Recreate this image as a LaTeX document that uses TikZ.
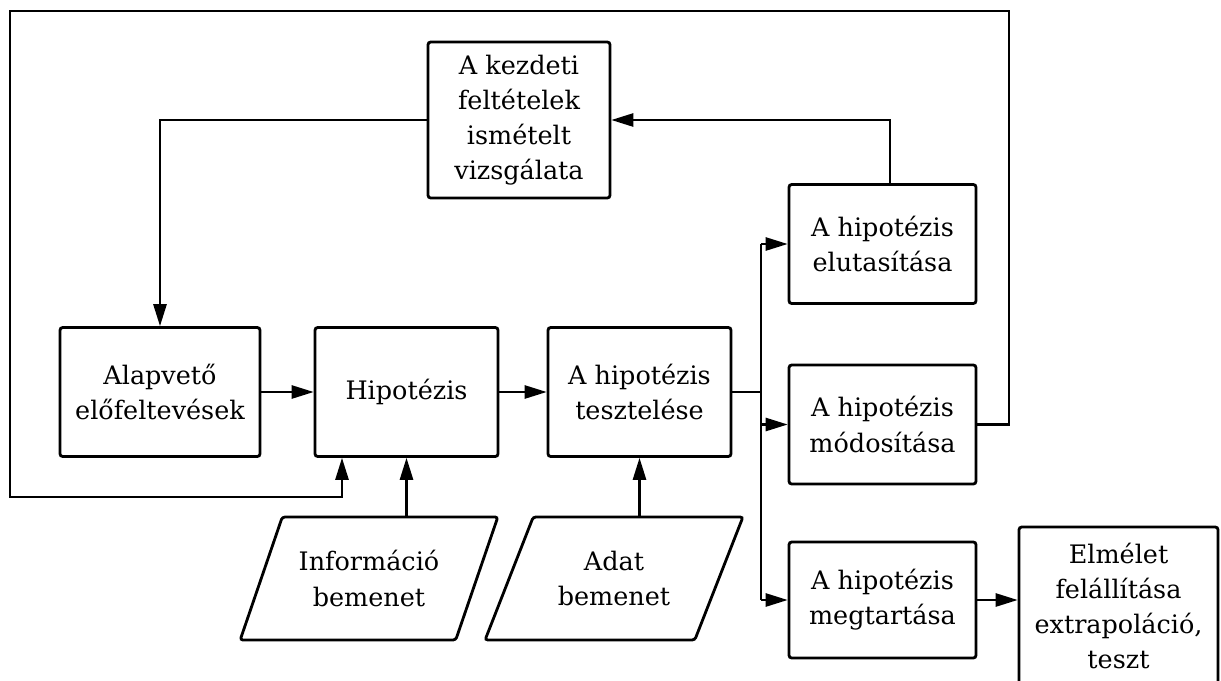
\documentclass[tikz,border=0pt]{standalone}
\usepackage{fontspec}
\setmainfont{DejaVu Serif}
\usetikzlibrary{arrows.meta,calc,shapes.geometric}

\begin{document}
\begin{tikzpicture}[x=0.02cm,y=-0.02cm,
    font=\fontsize{14.5}{20}\selectfont,
    box/.style={draw,line width=1.6pt,rounded corners=1.5pt,align=center,inner sep=0pt},
    inbox/.style={trapezium,trapezium left angle=58.6,trapezium right angle=121.4,
        trapezium stretches=true,draw,line width=1.6pt,rounded corners=1.5pt,
        align=center,inner sep=0pt},
    arr/.style={line width=1.2pt,-{Triangle[length=12.5pt,width=7.5pt]}},
    ln/.style={line width=1.2pt}]
    \useasboundingbox (0,0) rectangle (1221,680);
    \clip (0,0) rectangle (1221,680);
    % boxes
    \node[box,minimum width=3.64cm,minimum height=3.12cm] (kezd) at (519,120)
        {A kezdeti\\feltételek\\ismételt\\vizsgálata};
    \node[box,minimum width=4.0cm,minimum height=2.58cm] (alap) at (160,392)
        {Alapvető\\előfeltevések};
    \node[box,minimum width=3.66cm,minimum height=2.58cm] (hip) at (406.5,392) {Hipotézis};
    \node[box,minimum width=3.66cm,minimum height=2.58cm] (teszt) at (639.5,392)
        {A hipotézis\\tesztelése};
    \node[box,minimum width=3.74cm,minimum height=2.38cm] (elut) at (882.5,244)
        {A hipotézis\\elutasítása};
    \node[box,minimum width=3.74cm,minimum height=2.38cm] (mod) at (882.5,424.5)
        {A hipotézis\\módosítása};
    \node[box,minimum width=3.74cm,minimum height=2.32cm] (megt) at (882.5,600)
        {A hipotézis\\megtartása};
    \node[box,minimum width=3.98cm,minimum height=3.16cm] (elm) at (1118.5,606)
        {Elmélet\\felállítása\\extrapoláció,\\teszt};
    \node[inbox,minimum width=5.16cm,minimum height=2.46cm] (info) at (369,578.5)
        {Információ\\bemenet};
    \node[inbox,minimum width=5.16cm,minimum height=2.46cm] (adat) at (614,578.5)
        {Adat\\bemenet};
    \coordinate (br) at (761,392);
    \coordinate (loopTR) at (1009,11);
    \coordinate (loopBL) at (10,497);
    % connectors
    \draw[arr] (alap) -- (hip);
    \draw[arr] (hip) -- (teszt);
    \draw[ln] (teszt.east) -- (br);
    \draw[ln] (br |- elut.west) -- (br |- megt.west);
    \draw[arr] (br |- elut.west) -- (elut.west);
    \draw[arr] (br |- mod.west) -- (mod.west);
    \draw[arr] (br |- megt.west) -- (megt.west);
    \draw[arr] (megt.east) -- (megt.east -| elm.west);
    \draw[arr] ($(elut.north)+(7.5,0)$) |- (kezd.east);
    \draw[arr] (kezd.west) -| (alap.north);
    \draw[arr] (mod.east) -| (loopTR) -| (loopBL) -| ($(hip.south)+(-64.5,0)$);
    \draw[arr] (hip.south |- info.north) -- (hip.south);
    \draw[arr] (teszt.south |- adat.north) -- (teszt.south);
\end{tikzpicture}
\end{document}
